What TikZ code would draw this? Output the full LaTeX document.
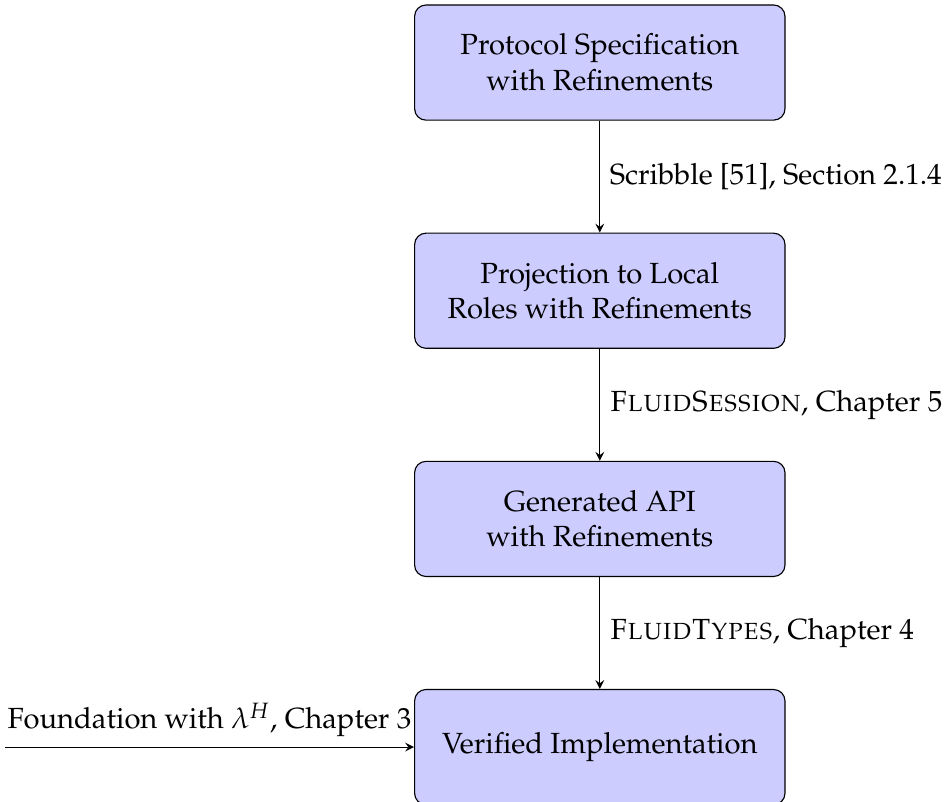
\documentclass[tikz,border=0pt]{standalone}
\usepackage[T1]{fontenc}
\usepackage{mathpazo}
\usepackage{tikz}
\usetikzlibrary{positioning}
\tikzset{stage/.style={draw,rounded corners,fill=blue!20,align=center,minimum width=4.6cm,minimum height=1.43cm}}
\begin{document}
\begin{tikzpicture}[>=stealth,every node/.style={font=\fontsize{10.3}{12.6}\selectfont}]
\useasboundingbox (0,0) rectangle (11.75,-9.95);
\node[stage] (spec) at (7.45,-0.777) {Protocol Specification\\with Refinements};
\node[stage,below=1.39cm of spec] (proj) {Projection to Local\\Roles with Refinements};
\node[stage,below=1.39cm of proj] (api) {Generated API\\with Refinements};
\node[stage,below=1.39cm of api] (impl) {Verified Implementation};
\draw[->] (spec)--node[right]{Scribble [51], Section 2.1.4} (proj);
\draw[->] (proj)--node[right]{\textsc{FluidSession}, Chapter 5} (api);
\draw[->] (api)--node[right]{\textsc{FluidTypes}, Chapter 4} (impl);
\coordinate (found) at (0.06,0 |- impl);
\draw[->] (found)--node[above]{Foundation with $\lambda^H$, Chapter 3} (impl);
\end{tikzpicture}
\end{document}
